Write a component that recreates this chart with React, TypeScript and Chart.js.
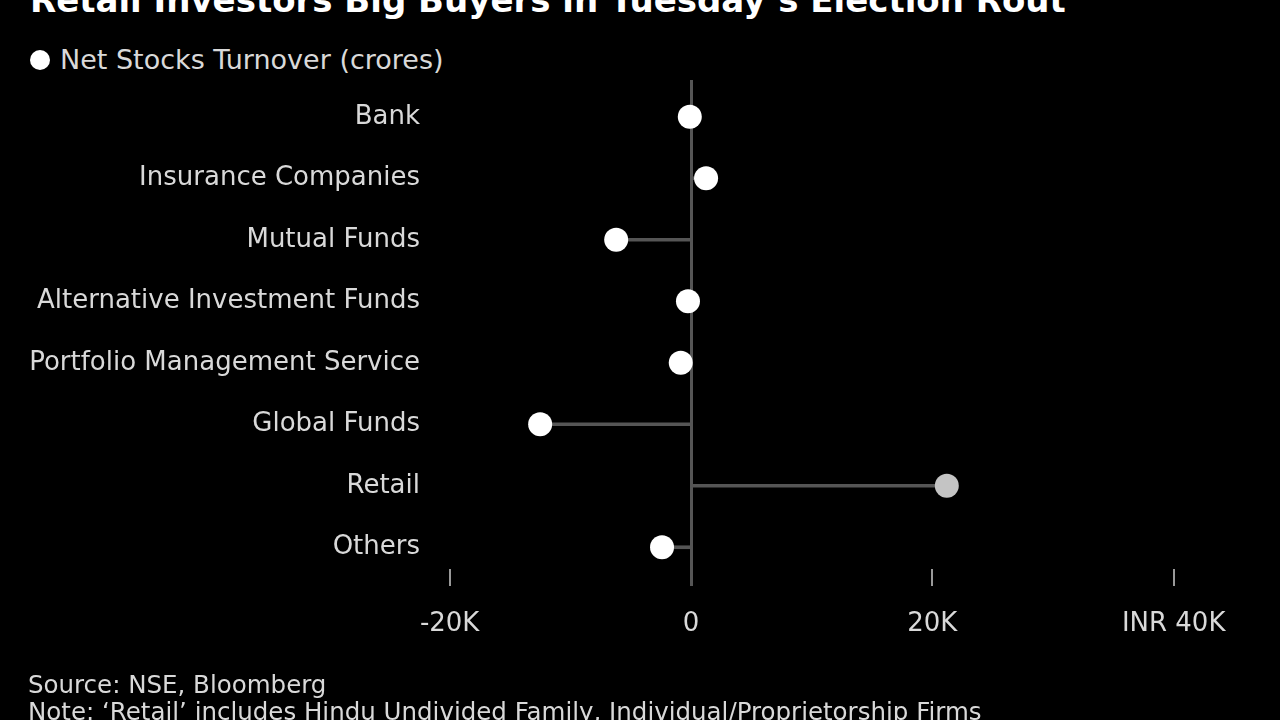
import React, { useEffect, useRef } from "react";
import { Chart, registerables } from "chart.js";

Chart.register(...registerables);

const categories = [
  "Bank",
  "Insurance Companies",
  "Mutual Funds",
  "Alternative Investment Funds",
  "Portfolio Management Service",
  "Global Funds",
  "Retail",
  "Others",
];
const netTurnover = [-100, 1250, -6200, -250, -850, -12500, 21200, -2400];
const dotColors = ["#ffffff", "#ffffff", "#ffffff", "#ffffff", "#ffffff", "#ffffff", "#c4c4c4", "#ffffff"];
const tickValues = [-20000, 0, 20000, 40000];
const tickLabels = ["-20K", "0", "20K", "INR 40K"];

const FONT = "'DejaVu Sans', 'Liberation Sans', sans-serif";

export default function App() {
  const ref = useRef<HTMLCanvasElement | null>(null);

  useEffect(() => {
    document.body.style.margin = "0";
    document.body.style.background = "#000";
    const canvas = ref.current!;
    const axisPlugin = {
      id: "axisMarks",
      beforeDatasetsDraw(chart: any) {
        const ctx = chart.ctx;
        const x = chart.scales.x;
        const area = chart.chartArea;
        ctx.save();
        ctx.lineWidth = 3;
        ctx.strokeStyle = "#555555";
        const zx = Math.round(x.getPixelForValue(0)) + 0.5;
        ctx.beginPath();
        ctx.moveTo(zx, area.top - 6);
        ctx.lineTo(zx, area.bottom + 8);
        ctx.stroke();
        ctx.lineWidth = 2;
        ctx.strokeStyle = "#999999";
        tickValues.forEach((v) => {
          if (v === 0) return;
          const px = Math.round(x.getPixelForValue(v));
          ctx.beginPath();
          ctx.moveTo(px, area.bottom - 9);
          ctx.lineTo(px, area.bottom + 8);
          ctx.stroke();
        });
        ctx.restore();
      },
    };
    const chart = new Chart(canvas, {
      type: "bar",
      data: {
        labels: categories,
        datasets: [
          {
            type: "line",
            label: "Net Stocks Turnover (crores)",
            data: netTurnover,
            showLine: false,
            pointRadius: 12,
            pointHoverRadius: 12,
            pointBackgroundColor: dotColors,
            pointBorderWidth: 0,
            borderWidth: 0,
            order: 0,
          } as any,
          {
            type: "bar",
            label: "stem",
            data: netTurnover.map((v) => [0, v]),
            backgroundColor: "#555555",
            barThickness: 3,
            order: 1,
          } as any,
        ],
      },
      options: {
        indexAxis: "y",
        responsive: false,
        animation: false,
        layout: { padding: { left: 0, right: 46, top: 86, bottom: 62 } },
        plugins: { legend: { display: false }, tooltip: { enabled: false } },
        scales: {
          x: {
            type: "linear",
            min: -20800,
            max: 45000,
            grid: { display: false },
            border: { display: false },
            afterBuildTicks: (scale: any) => {
              scale.ticks = tickValues.map((v) => ({ value: v }));
            },
            afterFit: (scale: any) => {
              scale.height = 80;
            },
            ticks: {
              color: "#d9d9d9",
              font: { family: FONT, size: 26 },
              padding: 23,
              maxRotation: 0,
              autoSkip: false,
              callback: (value: any) => {
                const i = tickValues.indexOf(Number(value));
                return i >= 0 ? tickLabels[i] : "";
              },
            },
          },
          y: {
            type: "category",
            grid: { display: false },
            border: { display: false },
            afterFit: (scale: any) => {
              scale.width = 440;
            },
            ticks: {
              color: "#d9d9d9",
              font: { family: FONT, size: 26 },
              padding: 12,
              autoSkip: false,
            },
          },
        },
      },
      plugins: [axisPlugin],
    } as any);
    return () => chart.destroy();
  }, []);

  return (
    <div style={{ position: "fixed", left: 0, top: 0, width: 1280, height: 720, background: "#000", overflow: "hidden" }}>
      <div
        style={{
          position: "absolute",
          left: 30,
          top: -20,
          fontFamily: "'DejaVu Sans', sans-serif",
          fontWeight: "bold",
          fontSize: 34,
          color: "#fff",
          whiteSpace: "nowrap",
        }}
      >
        Retail Investors Big Buyers in Tuesday’s Election Rout
      </div>
      <div
        style={{
          position: "absolute",
          left: 30,
          top: 44,
          fontFamily: FONT,
          fontSize: 27,
          lineHeight: "32px",
          color: "#d9d9d9",
          display: "flex",
          alignItems: "center",
          whiteSpace: "nowrap",
        }}
      >
        <span
          style={{ display: "inline-block", width: 20, height: 20, borderRadius: 10, background: "#fff", marginRight: 10 }}
        />
        Net Stocks Turnover (crores)
      </div>
      <canvas ref={ref} width={1280} height={720} style={{ position: "absolute", left: 0, top: 0 }} />
      <div
        style={{
          position: "absolute",
          left: 28,
          top: 671,
          fontFamily: FONT,
          fontSize: 24.5,
          lineHeight: "27px",
          color: "#d9d9d9",
          whiteSpace: "nowrap",
        }}
      >
        <div>Source: NSE, Bloomberg</div>
        <div>Note: ‘Retail’ includes Hindu Undivided Family, Individual/Proprietorship Firms</div>
      </div>
    </div>
  );
}
